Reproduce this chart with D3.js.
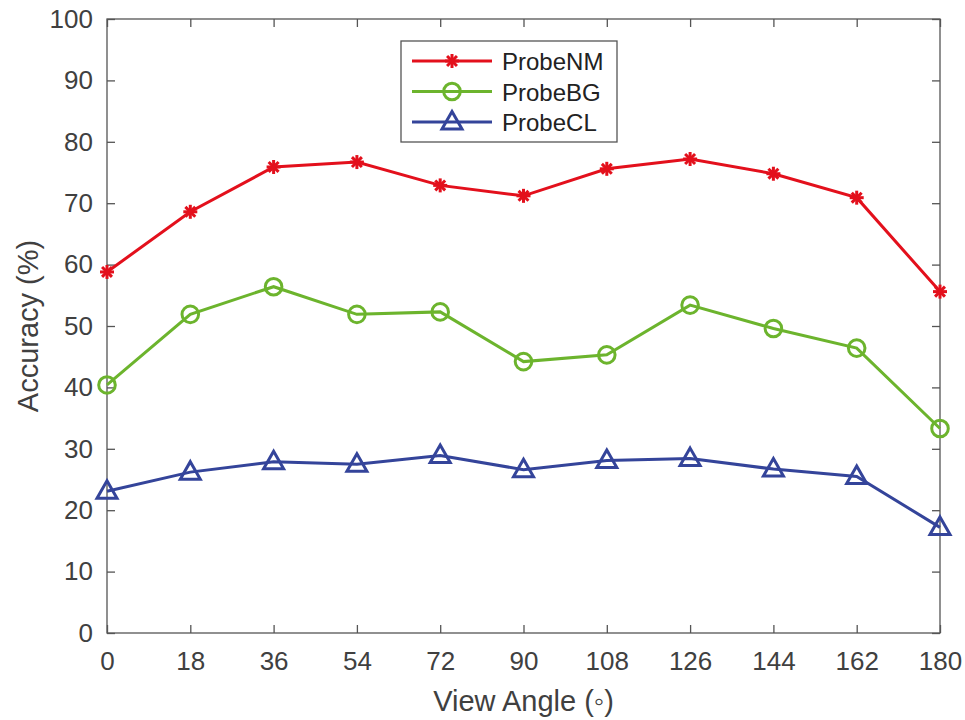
<!DOCTYPE html>
<html>
<head>
<meta charset="utf-8">
<script src="https://cdn.jsdelivr.net/npm/d3@7"></script>
<style>
  html, body { margin: 0; padding: 0; background: #fff; }
  svg { display: block; font-family: "Liberation Sans", Arial, Helvetica, sans-serif; }
</style>
</head>
<body>
<svg id="chart" width="965" height="720"></svg>
<script>
// View angles (degrees) and recognition accuracy (%) per probe set
const angles = [0, 18, 36, 54, 72, 90, 108, 126, 144, 162, 180];
const probeNM = [58.8, 68.6, 75.9, 76.7, 72.9, 71.2, 75.6, 77.2, 74.8, 70.9, 55.6];
const probeBG = [40.4, 51.9, 56.4, 51.9, 52.3, 44.2, 45.3, 53.4, 49.6, 46.4, 33.3];
const probeCL = [23.1, 26.2, 27.9, 27.5, 28.9, 26.6, 28.1, 28.4, 26.7, 25.5, 17.2];
const seriesNames = ["ProbeNM", "ProbeBG", "ProbeCL"];
const xTicks = [0, 18, 36, 54, 72, 90, 108, 126, 144, 162, 180];
const yTicks = [0, 10, 20, 30, 40, 50, 60, 70, 80, 90, 100];

const colors = ["#e3101c", "#6cb42d", "#34449a"];
const markers = ["star", "circle", "triangle"];
const seriesValues = [probeNM, probeBG, probeCL];

const svg = d3.select("#chart");
const plotL = 107, plotR = 940, plotT = 19, plotB = 633;

const x = d3.scaleLinear().domain([0, 180]).range([plotL, plotR]);
const y = d3.scaleLinear().domain([0, 100]).range([plotB, plotT]);

const axisColor = "#555";
const textColor = "#404040";
const tickLen = 8;

// Plot box
svg.append("rect")
  .attr("x", plotL).attr("y", plotT)
  .attr("width", plotR - plotL).attr("height", plotB - plotT)
  .attr("fill", "none").attr("stroke", axisColor).attr("stroke-width", 1.3);

function styleAxis(g) {
  g.select(".domain").remove();
  g.selectAll(".tick line").attr("stroke", axisColor).attr("stroke-width", 1.3);
  g.selectAll(".tick text").attr("fill", textColor).style("font-size", "26px")
    .style("font-family", "Liberation Sans, Arial, sans-serif");
}

// Bottom and top ticks (pointing inward)
svg.append("g").attr("transform", `translate(0,${plotB})`)
  .call(d3.axisBottom(x).tickValues(xTicks).tickSizeInner(-tickLen).tickSizeOuter(0).tickPadding(19))
  .call(styleAxis);
svg.append("g").attr("transform", `translate(0,${plotT})`)
  .call(d3.axisTop(x).tickValues(xTicks).tickSizeInner(-tickLen).tickSizeOuter(0).tickFormat(""))
  .call(styleAxis);

// Left and right ticks (pointing inward)
svg.append("g").attr("transform", `translate(${plotL},0)`)
  .call(d3.axisLeft(y).tickValues(yTicks).tickSizeInner(-tickLen).tickSizeOuter(0).tickPadding(14))
  .call(styleAxis);
svg.append("g").attr("transform", `translate(${plotR},0)`)
  .call(d3.axisRight(y).tickValues(yTicks).tickSizeInner(-tickLen).tickSizeOuter(0).tickFormat(""))
  .call(styleAxis);

// Axis titles
svg.append("text")
  .attr("x", (plotL + plotR) / 2).attr("y", 711)
  .attr("text-anchor", "middle").attr("fill", textColor)
  .style("font-size", "29px")
  .text("View Angle (◦)");
svg.append("text")
  .attr("transform", `translate(38,${(plotT + plotB) / 2}) rotate(-90)`)
  .attr("text-anchor", "middle").attr("fill", textColor)
  .style("font-size", "29px")
  .text("Accuracy (%)");

// Marker drawing
function drawMarker(g, type, cx, cy, color) {
  if (type === "star") {
    const r = 7;
    const p = g.append("g").attr("transform", `translate(${cx},${cy})`);
    [0, 45, 90, 135].forEach(a => {
      const rad = a * Math.PI / 180;
      p.append("line")
        .attr("x1", -r * Math.cos(rad)).attr("y1", -r * Math.sin(rad))
        .attr("x2", r * Math.cos(rad)).attr("y2", r * Math.sin(rad))
        .attr("stroke", color).attr("stroke-width", 3);
    });
  } else if (type === "circle") {
    g.append("circle").attr("cx", cx).attr("cy", cy).attr("r", 8.3)
      .attr("fill", "none").attr("stroke", color).attr("stroke-width", 3);
  } else {
    const s = 10;
    g.append("path")
      .attr("d", `M${cx},${cy - s * 1.05} L${cx + s},${cy + s * 0.7} L${cx - s},${cy + s * 0.7} Z`)
      .attr("fill", "none").attr("stroke", color).attr("stroke-width", 3)
      .attr("stroke-linejoin", "miter");
  }
}

const line = d3.line().x((d, i) => x(angles[i])).y(d => y(d));

seriesValues.forEach((vals, si) => {
  const g = svg.append("g");
  g.append("path").datum(vals).attr("d", line)
    .attr("fill", "none").attr("stroke", colors[si]).attr("stroke-width", 3);
  vals.forEach((v, i) => drawMarker(g, markers[si], x(angles[i]), y(v), colors[si]));
});

// Legend
const lg = svg.append("g");
lg.append("rect").attr("x", 401).attr("y", 41).attr("width", 216).attr("height", 101)
  .attr("fill", "#fff").attr("stroke", axisColor).attr("stroke-width", 1.3);
seriesNames.forEach((name, i) => {
  const yy = 61 + i * 30.5;
  lg.append("line").attr("x1", 412).attr("x2", 492).attr("y1", yy).attr("y2", yy)
    .attr("stroke", colors[i]).attr("stroke-width", 3);
  drawMarker(lg, markers[i], 452, yy, colors[i]);
  lg.append("text").attr("x", 502).attr("y", yy + 9).attr("fill", "#222")
    .style("font-size", "24px").text(name);
});
</script>
</body>
</html>
